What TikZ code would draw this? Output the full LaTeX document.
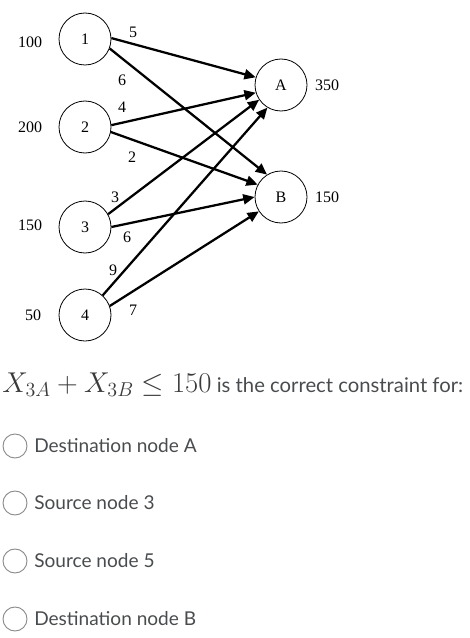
\RequirePackage{fix-cm}
\documentclass[tikz,border=0pt]{standalone}
\usepackage{fontspec}
\setmainfont{Lato}
\newfontfamily\diagfont{Liberation Serif}
\usetikzlibrary{arrows.meta}
\definecolor{txtgray}{HTML}{494C4E}
\definecolor{mathgray}{HTML}{3A3A3A}
\definecolor{radiogray}{HTML}{8A8A8A}
\tikzset{
  vert/.style={circle,draw=black,line width=0.6pt,minimum size=39pt,inner sep=0pt,font=\diagfont\fontsize{12}{13}\selectfont},
  lbl/.style={font=\diagfont\fontsize{12}{13}\selectfont,inner sep=0pt},
  flow/.style={line width=1.7pt,-{Triangle[length=8.5pt,width=7.5pt]}},
  radio/.style={circle,draw=radiogray,line width=0.7pt,minimum size=18pt,inner sep=0pt},
  opt/.style={anchor=west,inner sep=0pt,text=txtgray,font=\fontsize{14.3}{17}\selectfont}
}
\begin{document}
\begin{tikzpicture}[x=0.75pt,y=-0.75pt]
\useasboundingbox (0,0) rectangle (469,638);
% nodes
\node[vert] (n1) at (85,39) {1};
\node[vert] (n2) at (85,127) {2};
\node[vert] (n3) at (85,227) {3};
\node[vert] (n4) at (85,315) {4};
\node[vert] (A) at (281,85) {A};
\node[vert] (B) at (281,197) {B};
% supplies / demands
\node[lbl] (s1) at (30,42) {100};
\node[lbl] (s2) at (30,127) {200};
\node[lbl] (s3) at (30,225) {150};
\node[lbl] (s4) at (33,315) {50};
\node[lbl] (dA) at (327,85) {350};
\node[lbl] (dB) at (327,197) {150};
% arcs
\draw[flow] (n1.2) -- (A.163);
\draw[flow] (n1.-21) -- (B.122);
\draw[flow] (n2.4) -- (A.197);
\draw[flow] (n2.-11) -- (B.152);
\draw[flow] (n3.29) -- (A.214);
\draw[flow] (n3.0) -- (B.180);
\draw[flow] (n4.48) -- (A.239);
\draw[flow] (n4.20) -- (B.213);
% costs
\node[lbl] (c1A) at (133,32) {5};
\node[lbl] (c1B) at (122,80) {6};
\node[lbl] (c2A) at (122,107) {4};
\node[lbl] (c2B) at (132,157) {2};
\node[lbl] (c3A) at (115,197) {3};
\node[lbl] (c3B) at (127,237) {6};
\node[lbl] (c4A) at (113,270) {9};
\node[lbl] (c4B) at (133,310) {7};
% question
\node[anchor=base west,inner sep=0pt] (q) at (2,392) {\color{mathgray}\fontsize{21.5}{24}\selectfont$X_{3A}+X_{3B}\leq 150$\hspace{4pt}\color{txtgray}\fontsize{15.2}{18}\selectfont is the correct constraint for:};
% options
\node[radio] (r1) at (15,446) {};
\node[opt] (o1) at (34,446) {Destination node A};
\node[radio] (r2) at (15,503) {};
\node[opt] (o2) at (34,503) {Source node 3};
\node[radio] (r3) at (15,561) {};
\node[opt] (o3) at (34,561) {Source node 5};
\node[radio] (r4) at (15,619) {};
\node[opt] (o4) at (34,619) {Destination node B};
\end{tikzpicture}
\end{document}
